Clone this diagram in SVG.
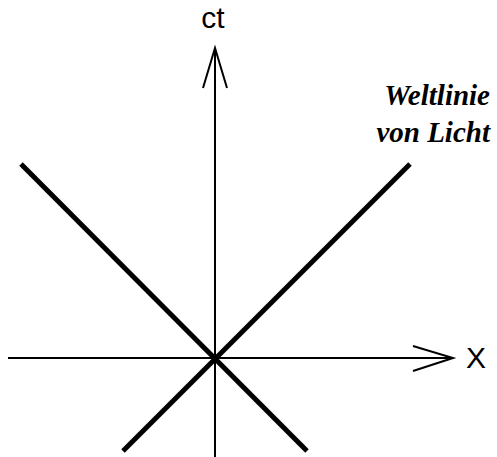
<svg xmlns="http://www.w3.org/2000/svg" width="497" height="457" viewBox="0 0 497 457">
<style>
.axis{stroke:#000;stroke-width:2;fill:none}
.light{stroke:#000;stroke-width:5;fill:none;stroke-linecap:butt}
.lbl{font-family:"Liberation Sans",Arial,sans-serif;font-size:30px;fill:#000}
.note{font-family:"Liberation Serif","Times New Roman",serif;font-size:29px;font-weight:bold;font-style:italic;fill:#000}
</style>
<rect width="497" height="457" fill="#fff"/>
<g id="connectors">
<line class="axis" x1="215" y1="48" x2="215" y2="457"/>
<polyline class="axis" points="203,88 215,48 227,88"/>
<line class="axis" x1="8" y1="358" x2="453" y2="358"/>
<polyline class="axis" points="413,346 453,358 413,371"/>
<line class="light" x1="21" y1="164" x2="307" y2="451"/>
<line class="light" x1="410" y1="164" x2="123" y2="451"/>
</g>
<g id="ct"><text class="lbl" x="213" y="28" text-anchor="middle">ct</text></g>
<g id="x"><text class="lbl" x="466" y="368">X</text></g>
<g id="weltlinie">
<text class="note" x="490" y="105" text-anchor="end">Weltlinie</text>
<text class="note" x="490" y="142" text-anchor="end">von Licht</text>
</g>
</svg>
